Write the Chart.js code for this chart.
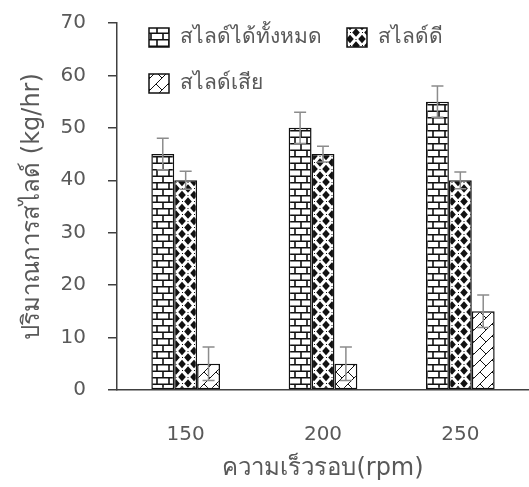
<!DOCTYPE html>
<html>
<head>
<meta charset="utf-8">
<script src="https://cdn.jsdelivr.net/npm/chart.js@4/dist/chart.umd.min.js"></script>
<style>
    html, body { margin: 0; padding: 0; background: #fff; }
    #wrap { width: 529px; height: 487px; }
</style>
</head>
<body>
<div id="wrap"><canvas id="barChart" width="529" height="487"></canvas></div>
<script>
// ---------------------------------------------
// DATA
// ---------------------------------------------
const speeds = ["150", "200", "250"];
const seriesLabels = ["สไลด์ได้ทั้งหมด", "สไลด์ดี", "สไลด์เสีย"];
const totalSlide = [45, 50, 55];
const goodSlide = [40, 45, 40];
const badSlide = [5, 5, 15];
const totalErr = [3, 3, 3];
const goodErr = [1.7, 1.5, 1.6];
const badErr = [3.2, 3.2, 3.1];
const yTicks = [0, 10, 20, 30, 40, 50, 60, 70];

const textColor = "#595959";
const numFont = "'DejaVu Sans', sans-serif";

// ---------------------------------------------
// FILL PATTERNS
// ---------------------------------------------
function makeTile(w, h, draw) {
    const c = document.createElement("canvas");
    c.width = w;
    c.height = h;
    const g = c.getContext("2d");
    g.fillStyle = "#fff";
    g.fillRect(0, 0, w, h);
    g.strokeStyle = "#111";
    g.fillStyle = "#111";
    draw(g);
    return g.createPattern(c, "repeat");
}

const brickPattern = makeTile(12, 13, g => {
    g.lineWidth = 1.6;
    g.beginPath();
    g.moveTo(0, 0.8); g.lineTo(12, 0.8);
    g.moveTo(0, 7.3); g.lineTo(12, 7.3);
    g.moveTo(1, 0); g.lineTo(1, 7.3);
    g.moveTo(7, 7.3); g.lineTo(7, 13);
    g.stroke();
});

const diamondPattern = makeTile(12, 13, g => {
    const diamond = (cx, cy) => {
        g.beginPath();
        g.moveTo(cx, cy - 4.2);
        g.lineTo(cx + 3.8, cy);
        g.lineTo(cx, cy + 4.2);
        g.lineTo(cx - 3.8, cy);
        g.closePath();
        g.fill();
    };
    diamond(6, 6.5);
    diamond(0, 0); diamond(12, 0); diamond(0, 13); diamond(12, 13);
    g.fillRect(5.5, 0, 1, 1);
    g.fillRect(0, 6, 1, 1);
});
// line the diamond columns up with the bar centre like the reference
diamondPattern.setTransform(new DOMMatrix().translate(2, 0));

const diagBrickPattern = makeTile(12, 12, g => {
    g.lineWidth = 1;
    g.beginPath();
    g.moveTo(-1, 13); g.lineTo(13, -1);
    g.moveTo(0, 0); g.lineTo(6, 6);
    g.stroke();
});

const fills = [brickPattern, diamondPattern, diagBrickPattern];

// ---------------------------------------------
// PLUGINS: ERROR BARS + IN-PLOT LEGEND
// ---------------------------------------------
const errorBars = {
    id: "errorBars",
    afterDatasetsDraw(chart) {
        const ctx = chart.ctx;
        const y = chart.scales.y;
        ctx.save();
        ctx.strokeStyle = "#8c8c8c";
        ctx.lineWidth = 1.5;
        chart.data.datasets.forEach((ds, i) => {
            chart.getDatasetMeta(i).data.forEach((bar, j) => {
                const v = ds.data[j];
                const e = ds.errors[j];
                const yt = y.getPixelForValue(v + e);
                const yb = y.getPixelForValue(v - e);
                ctx.beginPath();
                ctx.moveTo(bar.x, yt); ctx.lineTo(bar.x, yb);
                ctx.moveTo(bar.x - 6, yt); ctx.lineTo(bar.x + 6, yt);
                ctx.moveTo(bar.x - 6, yb); ctx.lineTo(bar.x + 6, yb);
                ctx.stroke();
            });
        });
        ctx.restore();
    }
};

const legendSpots = [
    { x: 149, y: 28 },
    { x: 347, y: 28 },
    { x: 149, y: 74 }
];

const boxLegend = {
    id: "boxLegend",
    afterDraw(chart) {
        const ctx = chart.ctx;
        ctx.save();
        chart.data.datasets.forEach((ds, i) => {
            const p = legendSpots[i];
            ctx.fillStyle = ds.backgroundColor;
            ctx.fillRect(p.x, p.y, 20, 19);
            ctx.strokeStyle = "#111";
            ctx.lineWidth = 1.5;
            ctx.strokeRect(p.x, p.y, 20, 19);
            ctx.fillStyle = textColor;
            ctx.font = "21px " + numFont;
            ctx.textAlign = "left";
            ctx.textBaseline = "middle";
            ctx.fillText(ds.label, p.x + 31, p.y + 10);
        });
        ctx.restore();
    }
};

// ---------------------------------------------
// CHART
// ---------------------------------------------
const dataSeries = [totalSlide, goodSlide, badSlide];
const errSeries = [totalErr, goodErr, badErr];

new Chart(document.getElementById("barChart").getContext("2d"), {
    type: "bar",
    data: {
        labels: speeds,
        datasets: seriesLabels.map((label, i) => ({
            label: label,
            data: dataSeries[i],
            errors: errSeries[i],
            backgroundColor: fills[i],
            borderColor: "#111",
            borderWidth: 1.5,
            borderSkipped: false
        }))
    },
    options: {
        responsive: false,
        animation: false,
        layout: { padding: { top: 23, right: 0, left: 0, bottom: 0 } },
        plugins: {
            legend: { display: false },
            tooltip: { enabled: false }
        },
        datasets: {
            bar: { categoryPercentage: 0.5, barPercentage: 1 }
        },
        scales: {
            x: {
                grid: { display: false },
                border: { color: "#404040", width: 1.5 },
                ticks: {
                    color: textColor,
                    font: { family: numFont, size: 20 },
                    padding: 25
                },
                title: {
                    display: true,
                    text: "ความเร็วรอบ(rpm)",
                    color: textColor,
                    font: { family: numFont, size: 24 },
                    padding: { top: 0 }
                },
                afterFit(axis) { axis.height = 97; }
            },
            y: {
                min: 0,
                max: 70,
                afterBuildTicks(axis) { axis.ticks = yTicks.map(v => ({ value: v })); },
                grid: {
                    drawOnChartArea: false,
                    drawTicks: true,
                    tickLength: 9,
                    color: "#404040",
                    lineWidth: 1.5
                },
                border: { color: "#404040", width: 1.5 },
                ticks: {
                    color: textColor,
                    font: { family: numFont, size: 20 },
                    padding: 22
                },
                title: {
                    display: true,
                    text: "ปริมาณการสไลด์ (kg/hr)",
                    color: textColor,
                    font: { family: numFont, size: 24 },
                    padding: { top: 18, bottom: 0 }
                },
                afterFit(axis) {
                    axis.width = 117;
                    // tick padding would otherwise push the plot top down
                    axis.paddingTop = 0;
                    axis.paddingBottom = 0;
                }
            }
        }
    },
    plugins: [errorBars, boxLegend]
});
</script>
</body>
</html>
